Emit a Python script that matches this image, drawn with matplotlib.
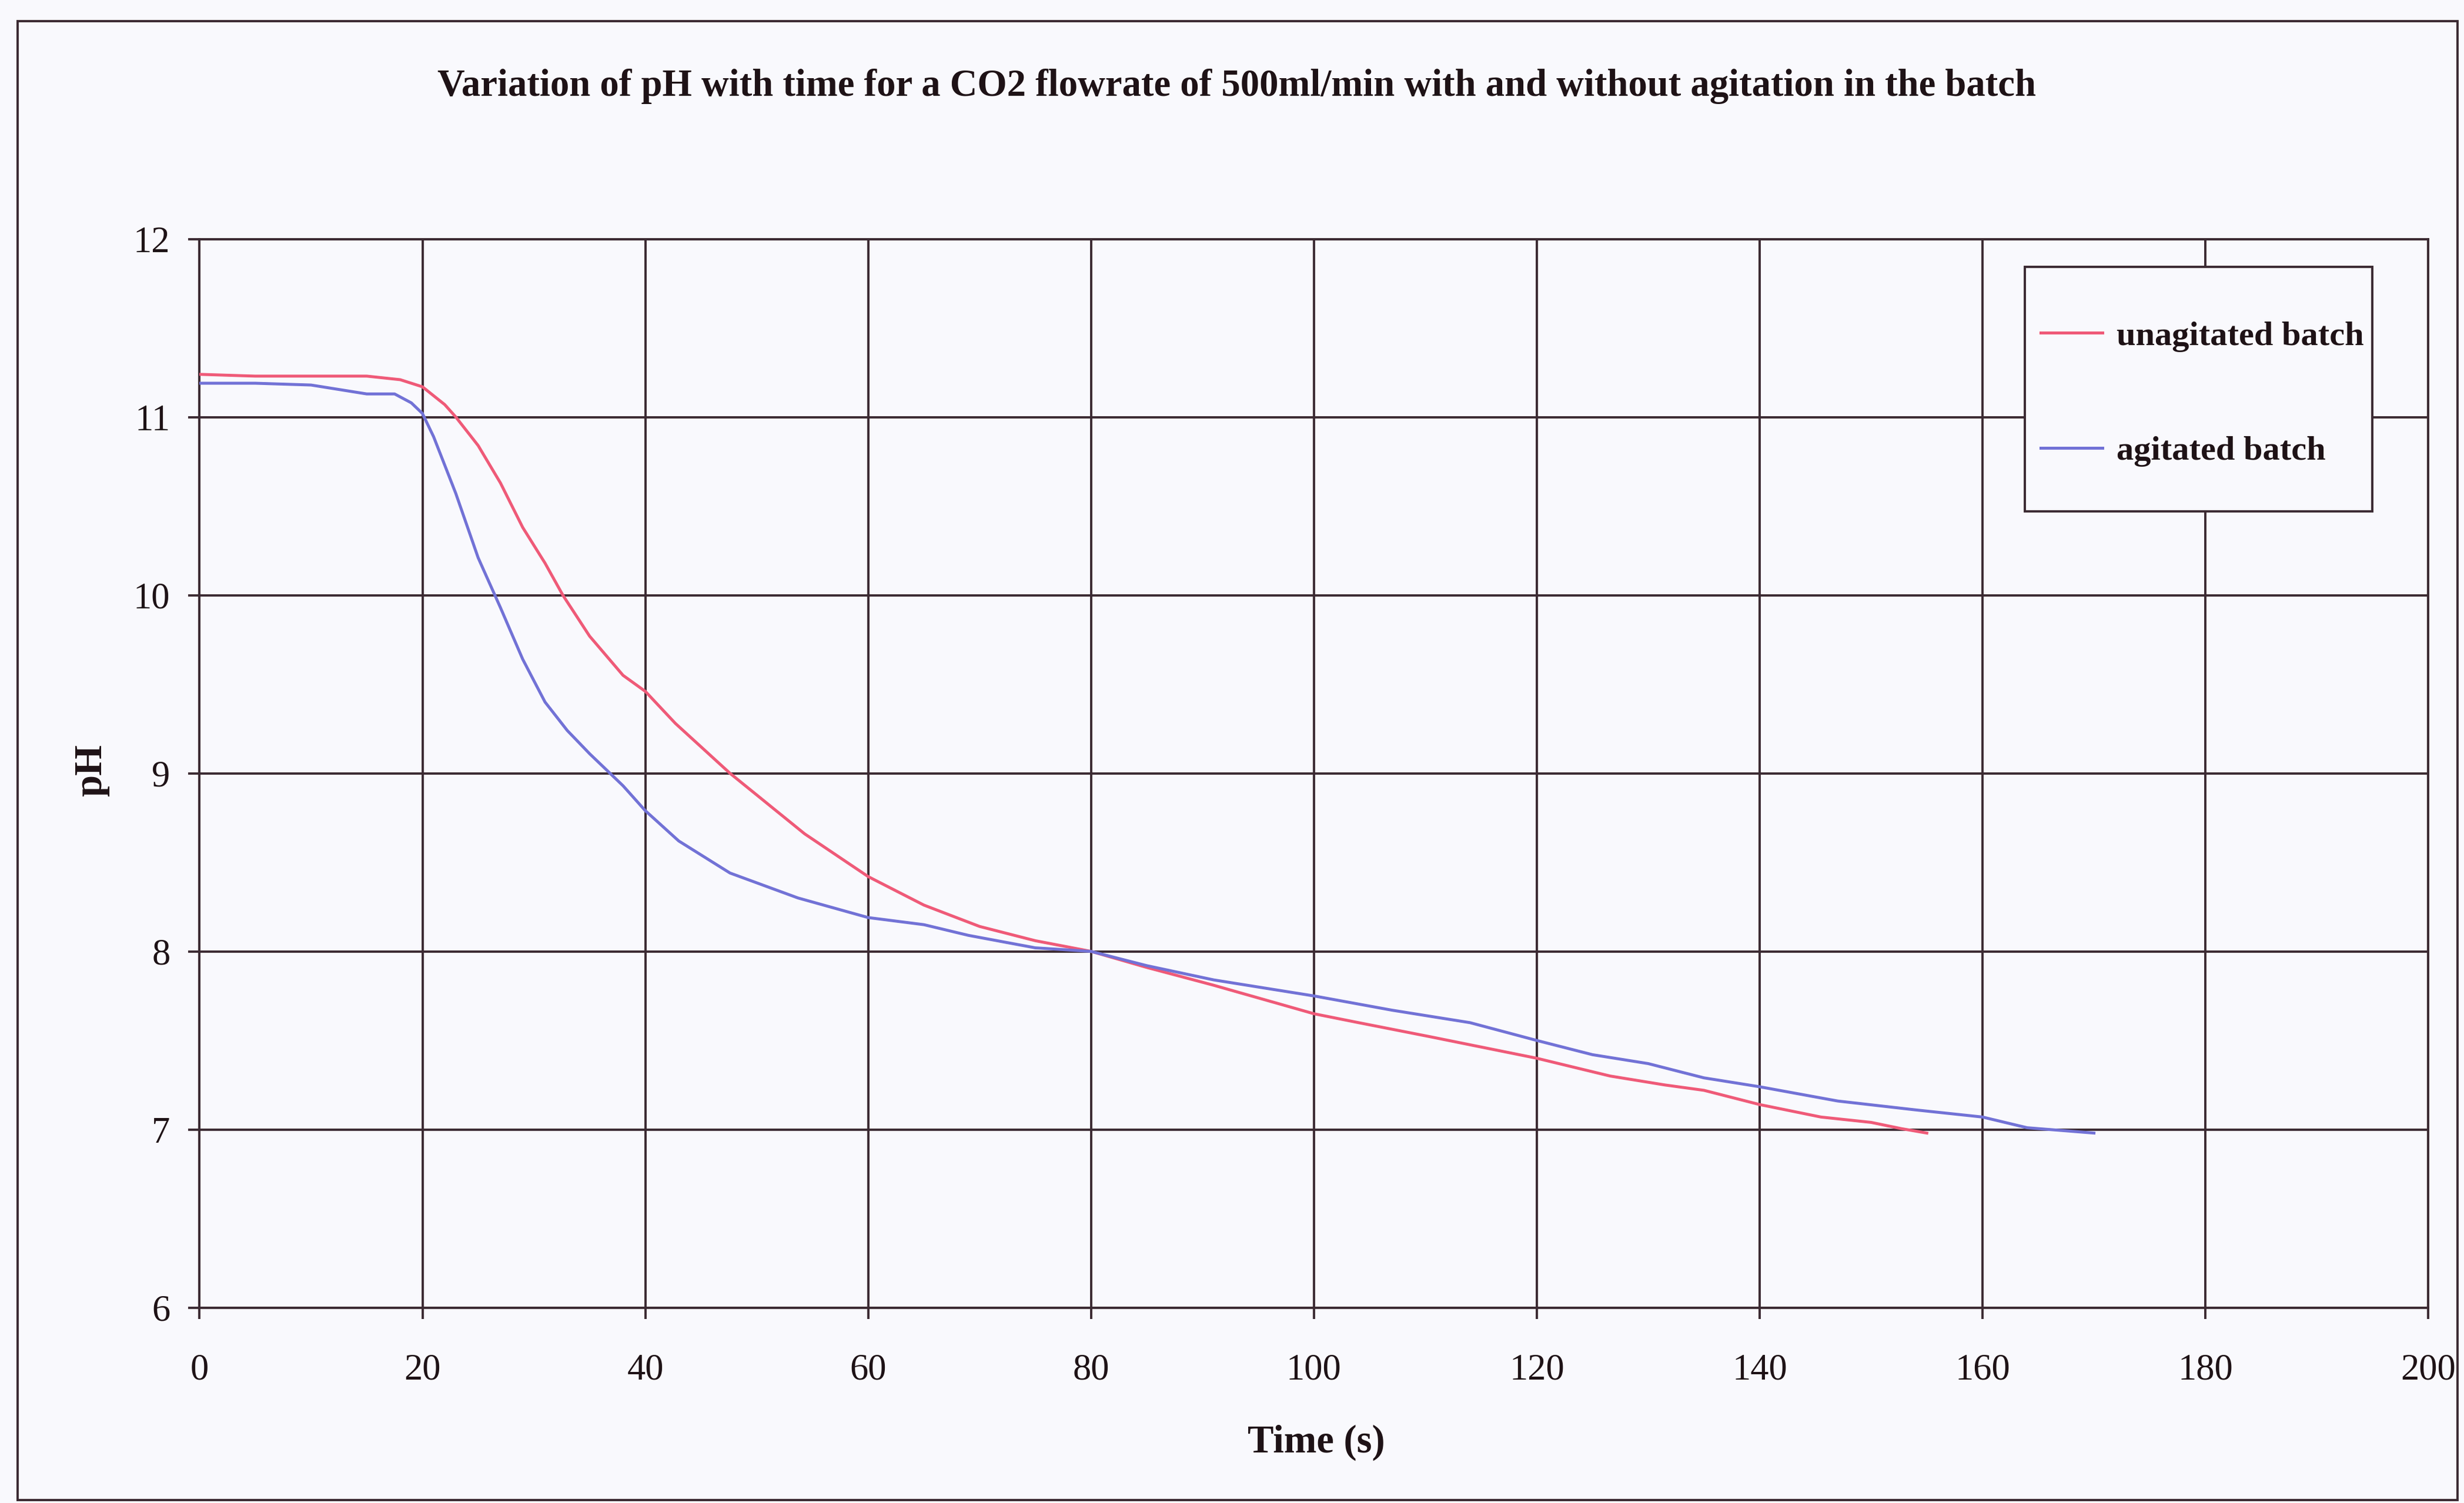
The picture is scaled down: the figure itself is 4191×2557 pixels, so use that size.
import matplotlib
matplotlib.use("Agg")
import matplotlib.pyplot as plt
from matplotlib.patches import Rectangle

# pH readings (time in seconds)
t_unagitated = [0, 5, 10, 15, 18, 20, 22, 23, 25, 27, 29, 31, 32.6, 35, 38, 40,
                42.7, 47.6, 54.3, 60, 65, 70, 75, 80, 85, 91, 100, 104, 110.5,
                120, 126.6, 131.5, 135, 140, 145.5, 150, 152.7, 155]
ph_unagitated = [11.24, 11.23, 11.23, 11.23, 11.21, 11.17, 11.07, 11.0, 10.84,
                 10.63, 10.38, 10.18, 10.0, 9.77, 9.55, 9.46, 9.28, 9.0, 8.66,
                 8.42, 8.26, 8.14, 8.06, 8.0, 7.91, 7.81, 7.65, 7.60, 7.52, 7.40,
                 7.30, 7.25, 7.22, 7.14, 7.07, 7.04, 7.005, 6.98]

t_agitated = [0, 5, 10, 12, 15, 17.5, 19, 20, 21, 23, 25, 27, 29, 31, 33, 35, 38, 40,
              43, 47.6, 53.7, 60, 65, 69, 75, 80, 85, 91, 100, 107, 114, 120, 125,
              130, 135, 140, 147, 154, 160, 164, 170]
ph_agitated = [11.19, 11.19, 11.18, 11.16, 11.13, 11.13, 11.08, 11.02, 10.89,
               10.57, 10.21, 9.93, 9.64, 9.40, 9.24, 9.11, 8.93, 8.79, 8.62, 8.44, 8.30,
               8.19, 8.15, 8.09, 8.02, 8.0, 7.92, 7.84, 7.75, 7.67, 7.60, 7.50,
               7.42, 7.37, 7.29, 7.24, 7.16, 7.11, 7.07, 7.01, 6.98]

x_ticks = [0, 20, 40, 60, 80, 100, 120, 140, 160, 180, 200]
y_ticks = [6, 7, 8, 9, 10, 11, 12]

title = "Variation of pH with time for a CO2 flowrate of 500ml/min with and without agitation in the batch"
series_labels = ["unagitated batch", "agitated batch"]

SERIF = ["Liberation Serif", "DejaVu Serif"]
INK = "#3b2a32"
TEXT = "#1e1216"
RED = "#ef5a78"
BLUE = "#7272d6"
BG = "#f9f9fd"

fig = plt.figure(figsize=(41.91, 25.57), dpi=100, facecolor=BG)
ax = fig.add_axes([0.081, 0.130, 0.9045, 0.711])
ax.set_facecolor(BG)

ax.plot(t_unagitated, ph_unagitated, color=RED, lw=3.6, label=series_labels[0],
        zorder=3, solid_joinstyle="round")
ax.plot(t_agitated, ph_agitated, color=BLUE, lw=3.6, label=series_labels[1],
        zorder=3, solid_joinstyle="round")

ax.set_xlim(0, 200)
ax.set_ylim(6, 12)
ax.set_xticks(x_ticks)
ax.set_yticks(y_ticks)
ax.grid(True, color=INK, lw=2.8, zorder=1)
for s in ax.spines.values():
    s.set_color(INK)
    s.set_linewidth(2.8)

ax.tick_params(axis="both", direction="out", length=14, width=2.8, color=INK,
               labelsize=45, labelcolor=TEXT)
ax.tick_params(axis="x", pad=42)
ax.tick_params(axis="y", pad=22)
for lab in ax.get_xticklabels() + ax.get_yticklabels():
    lab.set_family(SERIF)

ax.set_xlabel("Time (s)", fontsize=48, fontweight="bold", family=SERIF, color=TEXT)
ax.xaxis.label.set_va("center")
ax.xaxis.set_label_coords(0.501, -0.1265)
ax.set_ylabel("pH", fontsize=48, fontweight="bold", family=SERIF, color=TEXT)
ax.yaxis.label.set_va("center")
ax.yaxis.set_label_coords(-0.0485, 0.503)

# legend box drawn as its own rectangle, entries placed inside it
ax.add_patch(Rectangle((0.819, 0.745), 0.156, 0.229, transform=ax.transAxes,
                       facecolor=BG, edgecolor=INK, lw=2.8, zorder=4, clip_on=False))
leg = ax.legend(loc="center left", bbox_to_anchor=(0.8262, 0.855), frameon=False,
                prop={"family": SERIF, "weight": "bold", "size": 42},
                handlelength=1.8, handletextpad=0.4, labelspacing=2.45,
                borderpad=0, borderaxespad=0)
leg.set_zorder(5)
for txt in leg.get_texts():
    txt.set_color(TEXT)

fig.text(0.502, 0.9425, title, ha="center", va="center", fontsize=46.5,
         fontweight="bold", family=SERIF, color=TEXT)

# outer chart frame
fig.add_artist(Rectangle((0.0072, 0.002), 0.9902, 0.984, transform=fig.transFigure,
                         fill=False, edgecolor=INK, lw=2.8))

fig.savefig("out.png", dpi=100, facecolor=BG)
